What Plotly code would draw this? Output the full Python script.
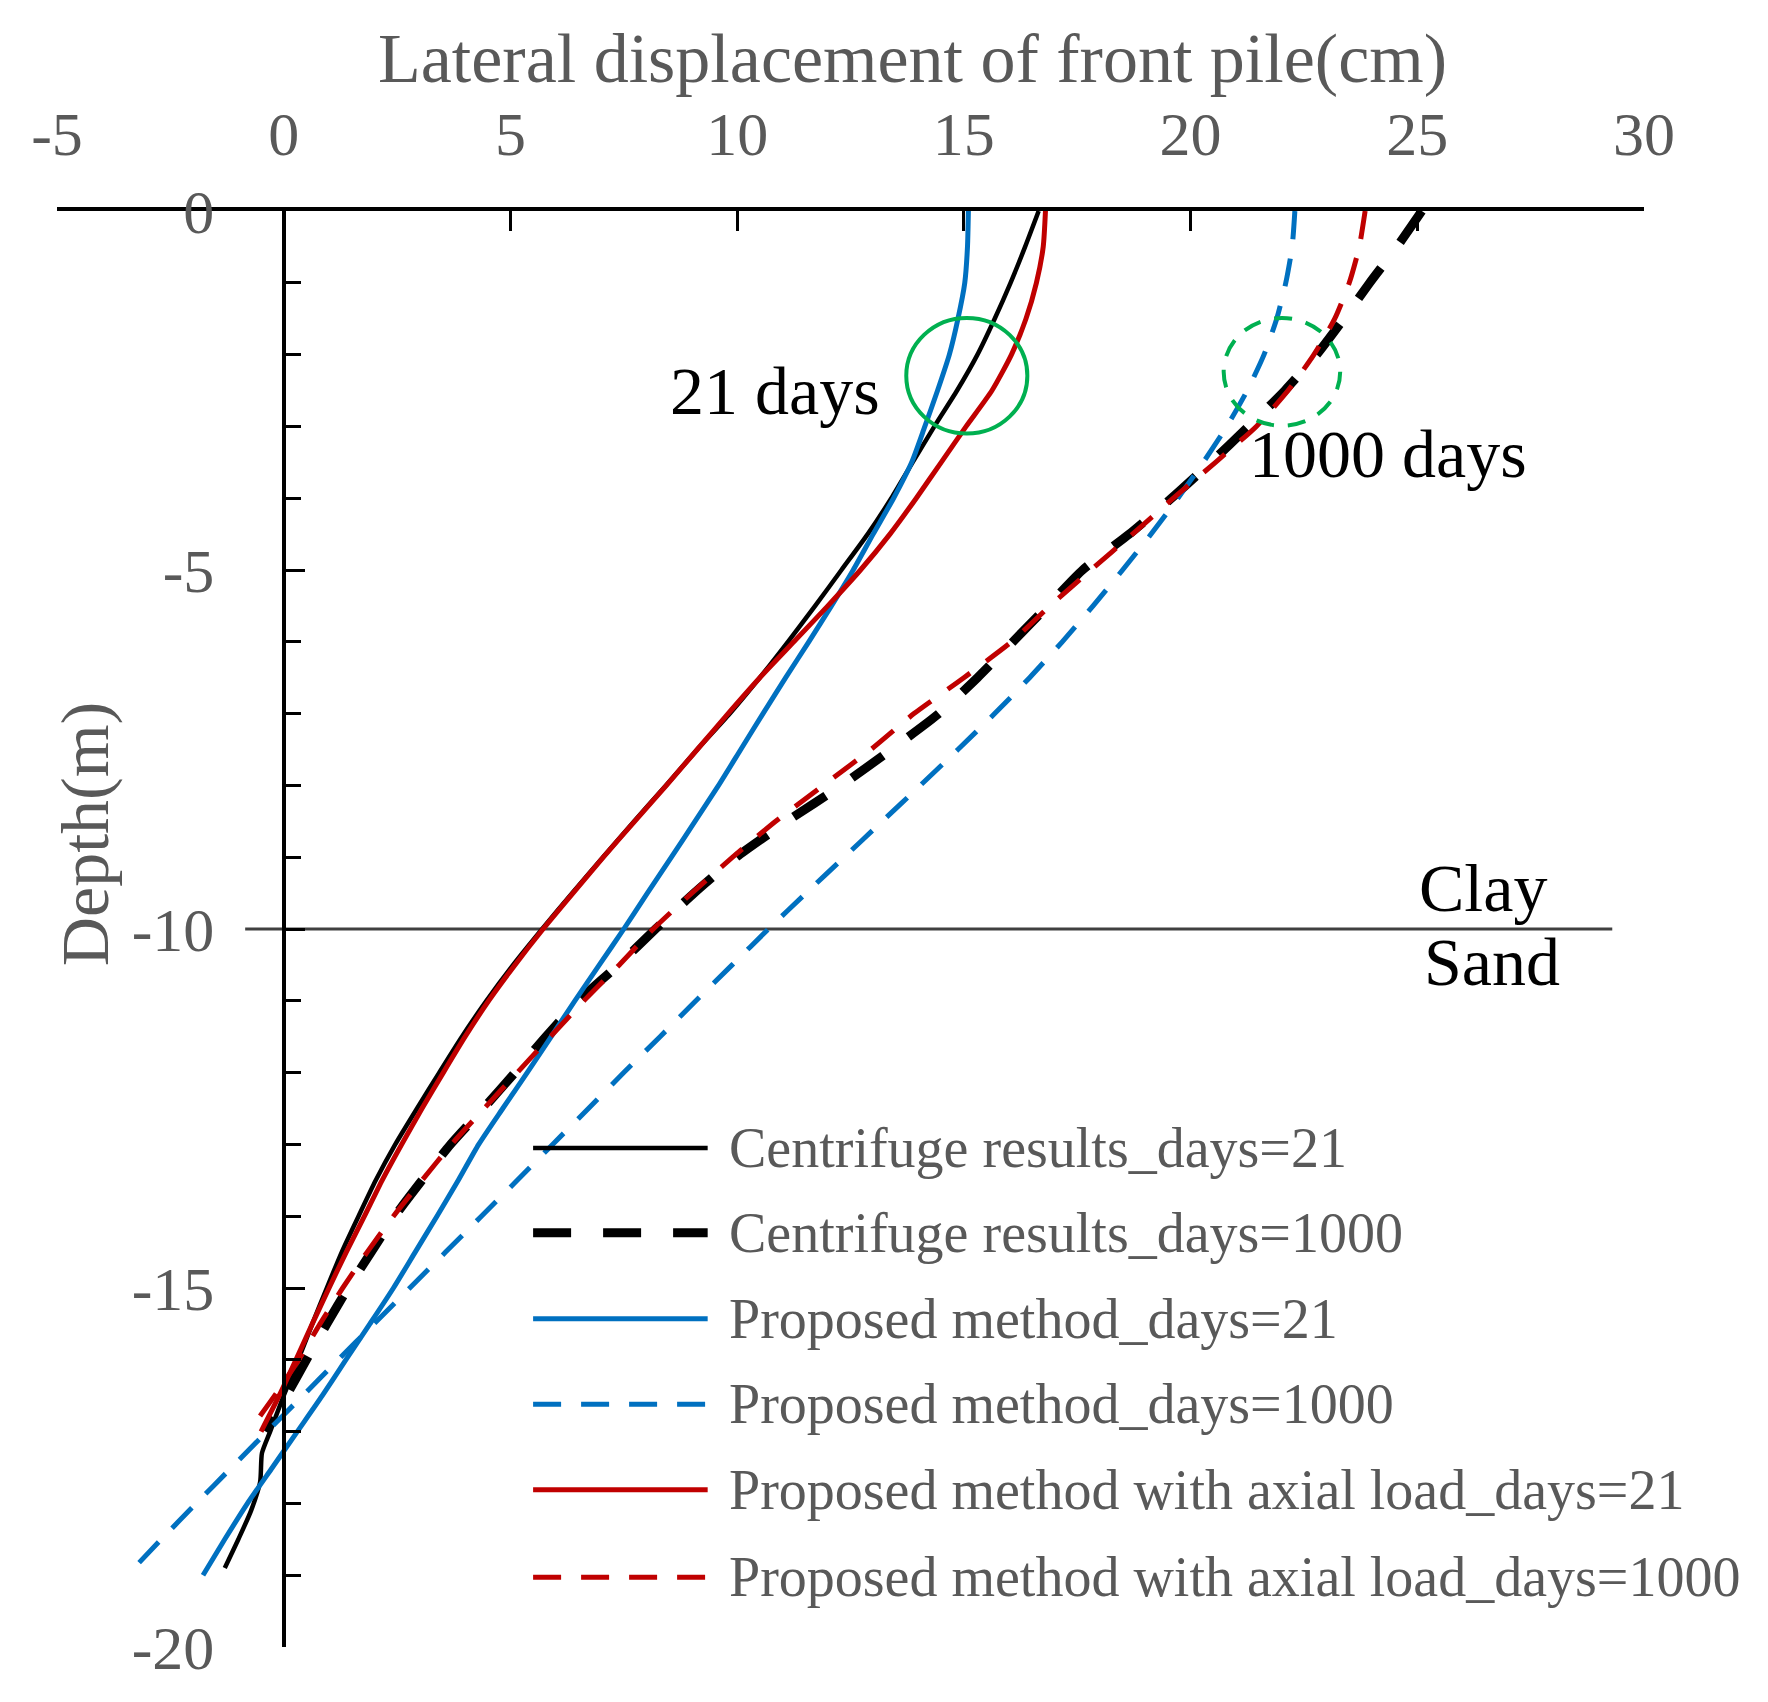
import plotly.graph_objects as go

# depth (m) and lateral displacement (cm)
depth_cent21 = [0, -0.5, -1, -1.5, -2, -2.5, -3, -3.5, -4, -4.5, -5, -5.5, -6, -6.5, -7, -7.5,
                -8, -8.5, -9, -9.5, -10, -10.5, -11, -11.5, -12, -12.5, -13, -13.5, -14, -14.5,
                -15, -15.5, -16, -16.5, -17, -17.3, -17.7, -18.1, -18.5, -18.9]
disp_cent21 = [16.65, 16.35, 16.03, 15.68, 15.3, 14.85, 14.35, 13.87, 13.4, 12.88, 12.3, 11.72,
               11.12, 10.5, 9.84, 9.12, 8.43, 7.73, 7.04, 6.36, 5.7, 5.06, 4.47, 3.93, 3.43, 2.94,
               2.46, 2.03, 1.65, 1.28, 0.95, 0.63, 0.32, 0.0, -0.3, -0.48, -0.52, -0.72, -1.0, -1.3]

depth_cent1000 = [0, -0.5, -1, -1.5, -2, -2.5, -3, -3.5, -4, -4.5, -5, -5.5, -6, -6.5, -7, -7.5,
                  -8, -8.5, -9, -9.5, -10, -10.5, -11, -11.5, -12, -12.5, -13, -13.5, -14, -14.5,
                  -15, -15.5, -16, -16.5, -17]
disp_cent1000 = [25.1, 24.55, 23.95, 23.38, 22.78, 22.08, 21.28, 20.45, 19.58, 18.65, 17.62, 16.85,
                 16.08, 15.3, 14.45, 13.4, 12.3, 11.1, 9.98, 9.05, 8.2, 7.38, 6.5, 5.78, 5.1,
                 4.4, 3.68, 3.05, 2.45, 1.93, 1.42, 0.95, 0.5, 0.06, -0.4]

depth_prop21 = [0, -0.5, -1, -1.5, -2, -2.5, -3, -3.5, -4, -4.5, -5, -5.5, -6, -6.5, -7, -7.5,
                -8, -8.5, -9, -9.5, -10, -10.5, -11, -11.5, -12, -12.5, -13, -13.5, -14, -14.5,
                -15, -15.5, -16, -16.5, -17, -17.5, -18, -18.5, -19]
disp_prop21 = [15.1, 15.08, 15.02, 14.87, 14.68, 14.42, 14.14, 13.85, 13.45, 13.0, 12.56, 12.08,
               11.58, 11.07, 10.57, 10.08, 9.59, 9.07, 8.55, 8.02, 7.5, 6.96, 6.42, 5.9, 5.37,
               4.83, 4.3, 3.85, 3.38, 2.9, 2.42, 1.9, 1.37, 0.85, 0.3, -0.25, -0.8, -1.3, -1.78]

depth_prop1000 = [0, -0.5, -1, -1.5, -2, -2.5, -3, -3.5, -4, -4.5, -5, -5.5, -6, -6.5, -7, -7.5,
                  -8, -8.5, -9, -9.5, -10, -10.5, -11, -11.5, -12, -12.5, -13, -13.5, -14, -14.5,
                  -15, -15.5, -16, -16.5, -17, -17.5, -18, -18.5, -19]
disp_prop1000 = [22.3, 22.24, 22.1, 21.9, 21.62, 21.25, 20.8, 20.28, 19.72, 19.13, 18.5, 17.85,
                 17.17, 16.45, 15.68, 14.87, 14.04, 13.2, 12.36, 11.52, 10.69, 9.89, 9.09, 8.3,
                 7.5, 6.72, 5.93, 5.15, 4.36, 3.57, 2.78, 1.99, 1.2, 0.42, -0.37, -1.15, -1.93,
                 -2.7, -3.45]

depth_axial21 = [0, -0.5, -1, -1.5, -2, -2.5, -3, -3.5, -4, -4.5, -5, -5.5, -6, -6.5, -7, -7.5,
                 -8, -8.5, -9, -9.5, -10, -10.5, -11, -11.5, -12, -12.5, -13, -13.5, -14, -14.5,
                 -15, -15.5, -16, -16.5, -17]
disp_axial21 = [16.8, 16.75, 16.6, 16.37, 16.05, 15.62, 15.05, 14.5, 13.95, 13.37, 12.72, 12.0,
                11.25, 10.5, 9.8, 9.12, 8.44, 7.74, 7.05, 6.38, 5.72, 5.1, 4.52, 4.0, 3.52, 3.05,
                2.6, 2.17, 1.78, 1.38, 1.0, 0.63, 0.27, -0.1, -0.5]

depth_axial1000 = [0, -0.5, -1, -1.5, -2, -2.5, -3, -3.5, -4, -4.5, -5, -5.5, -6, -6.5, -7, -7.5,
                   -8, -8.5, -9, -9.5, -10, -10.5, -11, -11.5, -12, -12.5, -13, -13.5, -14, -14.5,
                   -15, -15.5, -16, -16.5, -17]
disp_axial1000 = [23.85, 23.72, 23.5, 23.18, 22.72, 22.15, 21.45, 20.55, 19.62, 18.72, 17.8, 16.9,
                  16.05, 15.0, 13.9, 12.95, 11.9, 10.85, 9.9, 9.0, 8.15, 7.4, 6.62, 5.88, 5.15,
                  4.42, 3.7, 3.05, 2.42, 1.84, 1.3, 0.8, 0.33, -0.2, -0.77]

series_names = ["Centrifuge results_days=21", "Centrifuge results_days=1000",
                "Proposed method_days=21", "Proposed method_days=1000",
                "Proposed method with axial load_days=21",
                "Proposed method with axial load_days=1000"]

x_ticks = [-5, 0, 5, 10, 15, 20, 25, 30]
x_tick_labels = ["-5", "0", "5", "10", "15", "20", "25", "30"]
y_ticks = [0, -5, -10, -15, -20]
y_tick_labels = ["0", "-5", "-10", "-15", "-20"]

BLACK, BLUE, RED, GREEN = "#000000", "#0070C0", "#C00000", "#00B050"
GRAY = "#595959"
FONT = "Liberation Serif"

styles = [
    dict(color=BLACK, width=4.5, dash="solid"),
    dict(color=BLACK, width=9, dash="38px,32px"),
    dict(color=BLUE, width=5, dash="solid"),
    dict(color=BLUE, width=5, dash="28px,20px"),
    dict(color=RED, width=5, dash="solid"),
    dict(color=RED, width=5, dash="28px,20px"),
]
data = [(disp_cent21, depth_cent21), (disp_cent1000, depth_cent1000),
        (disp_prop21, depth_prop21), (disp_prop1000, depth_prop1000),
        (disp_axial21, depth_axial21), (disp_axial1000, depth_axial1000)]

fig = go.Figure()
for name, (xs, ys), st in zip(series_names, data, styles):
    fig.add_trace(go.Scatter(x=xs, y=ys, mode="lines", name=name, showlegend=False,
                             line=dict(st, shape="spline", smoothing=0.6)))

# clay / sand boundary
fig.add_shape(type="line", xref="x", yref="y", x0=-0.85, x1=29.3, y0=-10, y1=-10,
              line=dict(color="#404040", width=3), layer="below")

# highlight circles
fig.add_shape(type="circle", xref="x", yref="y", x0=13.73, x1=16.4, y0=-3.1, y1=-1.49,
              line=dict(color=GREEN, width=4))
fig.add_shape(type="circle", xref="x", yref="y", x0=20.73, x1=23.3, y0=-2.99, y1=-1.49,
              line=dict(color=GREEN, width=4, dash="18px,14px"))

notes = [("21 days", 13.2, -2.5, "right"), ("1000 days", 21.25, -3.38, "left"),
         ("Clay", 26.45, -9.43, "center"), ("Sand", 26.65, -10.46, "center")]
for txt, nx, ny, anc in notes:
    fig.add_annotation(text=txt, x=nx, y=ny, xref="x", yref="y", xanchor=anc,
                       yanchor="middle", showarrow=False,
                       font=dict(family=FONT, size=68, color="black"))

# hand-made legend with long line samples
legend_y = [-13.05, -14.23, -15.43, -16.62, -17.81, -19.03]
for name, ly, st in zip(series_names, legend_y, styles):
    fig.add_shape(type="line", xref="x", yref="y", x0=5.5, x1=9.35, y0=ly, y1=ly,
                  line=st)
    fig.add_annotation(text=name, x=9.78, y=ly, xref="x", yref="y", xanchor="left",
                       yanchor="middle", showarrow=False,
                       font=dict(family=FONT, size=56, color=GRAY))

fig.add_annotation(text="Lateral displacement of front pile(cm)", xref="paper", yref="paper",
                   x=0.539, y=1.106, xanchor="center", yanchor="middle", showarrow=False,
                   font=dict(family=FONT, size=70, color=GRAY))
fig.add_annotation(text="Depth(m)", xref="paper", yref="paper", x=0.0176, y=0.566,
                   textangle=-90, xanchor="center", yanchor="middle", showarrow=False,
                   font=dict(family=FONT, size=68, color=GRAY))

fig.update_layout(
    width=1752, height=1686,
    margin=dict(l=49, r=116, t=203, b=40),
    paper_bgcolor="white", plot_bgcolor="white",
    xaxis=dict(range=[-5, 30], side="top", showline=True, linecolor="black", linewidth=4,
               ticks="inside", ticklen=20, tickwidth=3, tickcolor="black",
               tickmode="array", tickvals=x_ticks, ticktext=x_tick_labels,
               showgrid=False, zeroline=False,
               tickfont=dict(family=FONT, size=62, color=GRAY), ticklabelstandoff=27),
    yaxis=dict(range=[-20, 0], anchor="free", position=5 / 35, showline=True,
               linecolor="black", linewidth=4, ticks="inside", ticklen=19, tickwidth=3,
               tickcolor="black", tickmode="array", tickvals=y_ticks, ticktext=y_tick_labels,
               minor=dict(tick0=0, dtick=1, ticks="inside", ticklen=15, tickwidth=3,
                          tickcolor="black"),
               showgrid=False, zeroline=False,
               tickfont=dict(family=FONT, size=62, color=GRAY), ticklabelstandoff=55),
)

fig.write_html("out.html")
